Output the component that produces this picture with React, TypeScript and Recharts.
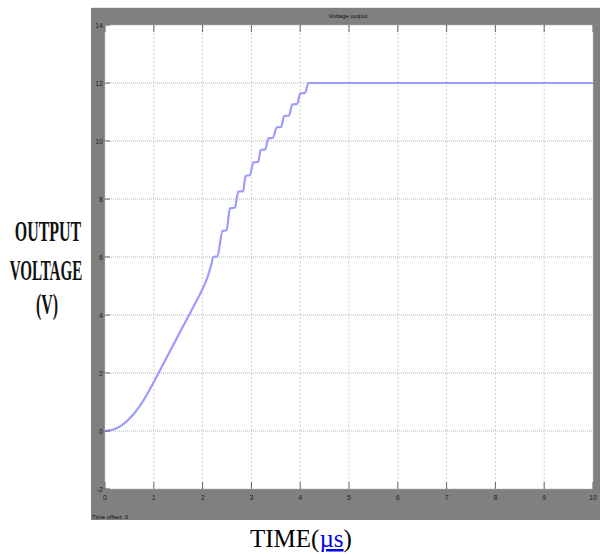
import React from 'react';
import { LineChart, Line, XAxis, YAxis, CartesianGrid } from 'recharts';

// sampled points of the scope trace (time in µs, voltage in V)
const timeUs = [
  0, 0.1, 0.2, 0.3, 0.4, 0.5, 0.6, 0.7, 0.8, 0.9, 1.0, 1.1, 1.2, 1.3, 1.4, 1.5, 1.6, 1.7, 1.8, 1.9, 2.0, 2.1, 2.18,
  2.22, 2.3, 2.41, 2.49, 2.56, 2.66, 2.73, 2.83, 2.88, 2.97, 3.04, 3.14, 3.19, 3.28, 3.35, 3.44, 3.52, 3.61,
  3.67, 3.77, 3.84, 3.94, 4.0, 4.1, 4.17, 5, 6, 7, 8, 9, 10,
];
const voltage = [
  0, 0.02, 0.07, 0.15, 0.27, 0.42, 0.61, 0.83, 1.09, 1.38, 1.69, 2.01, 2.33, 2.65, 2.97, 3.29, 3.61, 3.93, 4.25, 4.57, 4.9, 5.3, 5.75,
  6.0, 6.02, 6.9, 6.92, 7.68, 7.7, 8.25, 8.27, 8.8, 8.82, 9.26, 9.28, 9.69, 9.71, 10.09, 10.11, 10.47, 10.49,
  10.86, 10.88, 11.26, 11.28, 11.64, 11.66, 12, 12, 12, 12, 12, 12, 12,
];
const xTicks = [0, 1, 2, 3, 4, 5, 6, 7, 8, 9, 10];
const yTicks = [-2, 0, 2, 4, 6, 8, 10, 12, 14];

const data = timeUs.map((t, i) => ({ t, v: voltage[i] }));

const BottomTick = (props: any) => {
  const { x, y, payload } = props;
  return (
    <g>
      <line x1={x} y1={y} x2={x} y2={y - 7} stroke="#666" strokeWidth={1} />
      <text x={x} y={y + 11} textAnchor="middle" fontSize={7} fill="#222" fontFamily="Liberation Sans">
        {payload.value}
      </text>
    </g>
  );
};

const TopTick = (props: any) => {
  const { x, y } = props;
  return <line x1={x} y1={y} x2={x} y2={y + 7} stroke="#666" strokeWidth={1} />;
};

const LeftTick = (props: any) => {
  const { x, y, payload } = props;
  return (
    <g>
      <line x1={x} y1={y} x2={x + 5} y2={y} stroke="#666" strokeWidth={1} />
      <text x={x - 2} y={y + 2.5} textAnchor="end" fontSize={7} fill="#222" fontFamily="Liberation Sans">
        {payload.value}
      </text>
    </g>
  );
};

export default function App() {
  return (
    <div style={{ position: 'absolute', left: 0, top: 0, width: 600, height: 554, background: '#fff', overflow: 'hidden' }}>
      <div style={{ position: 'absolute', left: 91, top: 7, width: 509, height: 1, background: '#e8e8e8' }} />
      <div style={{ position: 'absolute', left: 91, top: 8, width: 509, height: 512, background: '#808080' }}>
        <LineChart width={509} height={512} data={data} margin={{ top: 0, right: 7, bottom: 0, left: 0 }}>
          <CartesianGrid
            fill="#fff"
            vertical={false}
            stroke="#b0b0b0"
            strokeDasharray="1 1"
            horizontalValues={yTicks}
          />
          <CartesianGrid horizontal={false} stroke="#cfcfcf" strokeDasharray="2 2" verticalValues={xTicks} />
          <XAxis
            dataKey="t"
            type="number"
            domain={[0, 10]}
            ticks={xTicks}
            height={31}
            axisLine={false}
            tickLine={false}
            tickSize={0}
            tickMargin={0}
            tick={<BottomTick />}
            interval={0}
          />
          <XAxis
            xAxisId="top"
            orientation="top"
            dataKey="t"
            type="number"
            domain={[0, 10]}
            ticks={xTicks}
            height={17}
            axisLine={false}
            tickLine={false}
            tickSize={0}
            tickMargin={0}
            tick={<TopTick />}
            interval={0}
          />
          <YAxis
            type="number"
            domain={[-2, 14]}
            ticks={yTicks}
            width={14}
            axisLine={false}
            tickLine={false}
            tickSize={0}
            tickMargin={0}
            tick={<LeftTick />}
            interval={0}
          />
          <Line
            type="monotone"
            dataKey="v"
            stroke="#9c9cff"
            strokeWidth={2.2}
            dot={false}
            isAnimationActive={false}
          />
        </LineChart>
      </div>
      <svg width={600} height={554} style={{ position: 'absolute', left: 0, top: 0, pointerEvents: 'none' }}>
        <text x={348} y={18} textAnchor="middle" fontSize={6} fill="#111" fontFamily="Liberation Sans">
          Voltage output
        </text>
        <text x={92} y={519} fontSize={6} fill="#111" fontFamily="Liberation Sans">
          Time offset:  0
        </text>
        <g fontFamily="Liberation Serif" fontWeight="bold" fill="#111" textAnchor="middle">
          <text transform="translate(48,241) scale(0.55,1)" fontSize={29}>OUTPUT</text>
          <text transform="translate(46,280) scale(0.52,1)" fontSize={29}>VOLTAGE</text>
          <text transform="translate(47,314) scale(0.55,1)" fontSize={29}>(V)</text>
        </g>
        <text x={250} y={547} fontSize={25} fontFamily="Liberation Serif" fill="#000">
          TIME(
          <tspan fill="#0000ee" textDecoration="underline">µs</tspan>
          )
        </text>
      </svg>
    </div>
  );
}
